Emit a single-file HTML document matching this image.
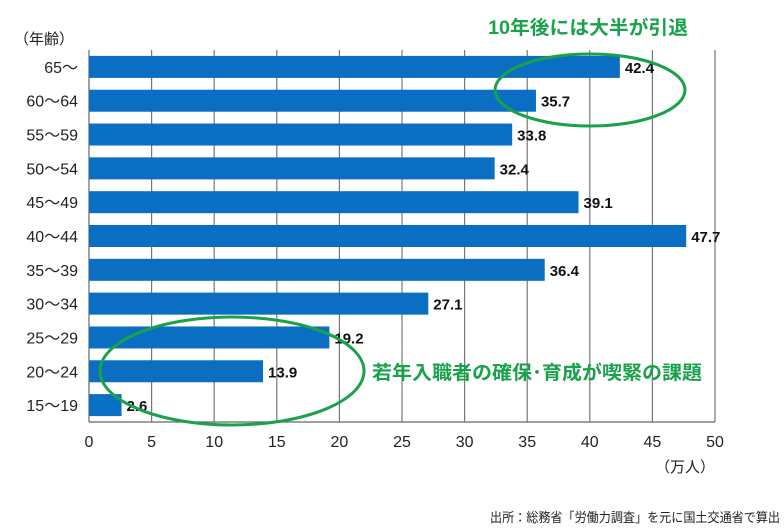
<!DOCTYPE html>
<html><head><meta charset="utf-8"><style>
body{margin:0;background:#fff;width:784px;height:527px;overflow:hidden}
svg text{font-family:"Liberation Sans","Noto Sans CJK JP",sans-serif}
</style></head><body>
<svg id="chart" width="784" height="527" xmlns="http://www.w3.org/2000/svg">
<g id="grid"></g><g id="bars"></g><g id="labels"></g>
<text x="14" y="44" font-size="15" fill="#222">（年齢）</text>
<text x="715" y="472" font-size="15" fill="#222" text-anchor="end">（万人）</text>
<text x="490" y="522" font-size="13" fill="#222" textLength="290" lengthAdjust="spacingAndGlyphs">出所：総務省「労働力調査」を元に国土交通省で算出</text>
<ellipse cx="590" cy="90" rx="95" ry="36" fill="none" stroke="#1aa24a" stroke-width="3"/>
<ellipse cx="232" cy="371" rx="132" ry="54" fill="none" stroke="#1aa24a" stroke-width="3"/>
<text x="488" y="34" font-size="19" font-weight="bold" fill="#1aa24a" textLength="200" lengthAdjust="spacingAndGlyphs">10年後には大半が引退</text>
<text x="372" y="379" font-size="19" font-weight="bold" fill="#1aa24a" textLength="330" lengthAdjust="spacingAndGlyphs">若年入職者の確保･育成が喫緊の課題</text>
</svg>
<script>
const categories=["65～","60～64","55～59","50～54","45～49","40～44","35～39","30～34","25～29","20～24","15～19"];
const values=[42.4,35.7,33.8,32.4,39.1,47.7,36.4,27.1,19.2,13.9,2.6];
const valueLabels=["42.4","35.7","33.8","32.4","39.1","47.7","36.4","27.1","19.2","13.9","2.6"];
const ticks=[0,5,10,15,20,25,30,35,40,45,50];
const NS="http://www.w3.org/2000/svg";
const X0=89,X1=715,TOP=50,BOT=422;
const x=v=>X0+(v-ticks[0])/(ticks[ticks.length-1]-ticks[0])*(X1-X0);
const band=(BOT-TOP)/categories.length;
const y=i=>TOP+i*band;
function mk(t,a,p){const e=document.createElementNS(NS,t);for(const k in a)e.setAttribute(k,a[k]);p.appendChild(e);return e;}
const g=document.getElementById('grid'),b=document.getElementById('bars'),l=document.getElementById('labels');
ticks.forEach(t=>{
 const ln=mk('line',{x1:x(t),x2:x(t),y1:TOP,y2:BOT,stroke:t===0?'#666':'#777','stroke-width':1.2},g);
 
 
 const tx=mk('text',{x:x(t),y:447,'font-size':16,'text-anchor':'middle',fill:'#222'},l);
 tx.textContent=t;
 
 
});
const ax=mk('line',{x1:X0,x2:X1,y1:BOT,y2:BOT,stroke:'#666','stroke-width':1.2},g);


categories.forEach((c,i)=>{
 const top=y(i)+(band-22)/2;
 const r=mk('rect',{x:X0,y:top,width:x(values[i])-X0,height:22,fill:'#0a6fc2'},b);
 
 
 const ct=mk('text',{x:78,y:top+17,'font-size':16,'text-anchor':'end',fill:'#222'},l);
 ct.textContent=c;
 
 
 const vt=mk('text',{x:x(values[i])+5,y:top+17,'font-size':15,'font-weight':'bold',fill:'#111'},l);
 vt.textContent=valueLabels[i];
 
 
});
</script>
</body></html>
